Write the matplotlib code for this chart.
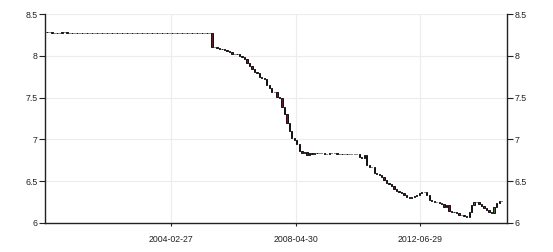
import pandas as pd
import numpy as np
import matplotlib
matplotlib.use('Agg')
import matplotlib.pyplot as plt
import matplotlib.dates as mdates
from matplotlib.ticker import FormatStrFormatter

# Fechamentos mensais (jan/2000 ... mar/2015)
close_2000_2004 = [
    8.2793, 8.2789, 8.2787, 8.2783, 8.2774, 8.2778, 8.2792, 8.2795, 8.2776, 8.2775, 8.2773, 8.2774,
    8.2771, 8.2776, 8.2776, 8.2772, 8.2773, 8.2770, 8.2770, 8.2770, 8.2769, 8.2768, 8.2769, 8.2766,
    8.2766, 8.2767, 8.2772, 8.2771, 8.2771, 8.2772, 8.2768, 8.2769, 8.2769, 8.2771, 8.2772, 8.2773,
    8.2770, 8.2772, 8.2773, 8.2773, 8.2771, 8.2773, 8.2772, 8.2771, 8.2771, 8.2769, 8.2770, 8.2767,
    8.2769, 8.2771, 8.2770, 8.2771, 8.2745, 8.2765, 8.2769, 8.2766, 8.2765, 8.2765, 8.2765, 8.2765,
]
close_2005_2009 = [
    8.2765, 8.2765, 8.2765, 8.2765, 8.2765, 8.2765, 8.1080, 8.1000, 8.0920, 8.0850, 8.0825, 8.0702,
    8.0608, 8.0415, 8.0170, 8.0165, 8.0250, 7.9956, 7.9897, 7.9593, 7.9087, 7.8792, 7.8412, 7.8087,
    7.7898, 7.7410, 7.7342, 7.7247, 7.6516, 7.6155, 7.5720, 7.5640, 7.5108, 7.4928, 7.3850, 7.3046,
    7.1918, 7.1058, 7.0190, 6.9965, 6.9472, 6.8591, 6.8388, 6.8445, 6.8183, 6.8349, 6.8271, 6.8346,
    6.8382, 6.8380, 6.8359, 6.8263, 6.8300, 6.8319, 6.8317, 6.8321, 6.8262, 6.8264, 6.8272, 6.8282,
]
close_2010_2015 = [
    6.8270, 6.8269, 6.8263, 6.8263, 6.8275, 6.7909, 6.7740, 6.8090, 6.6905, 6.6710, 6.6670, 6.6000,
    6.5900, 6.5700, 6.5500, 6.5100, 6.4800, 6.4650, 6.4400, 6.4100, 6.3850, 6.3650, 6.3550, 6.3300,
    6.3100, 6.3000, 6.3100, 6.3200, 6.3400, 6.3550, 6.3700, 6.3650, 6.3300, 6.2800, 6.2600, 6.2500,
    6.2500, 6.2450, 6.2300, 6.1900, 6.2200, 6.1400, 6.1350, 6.1300, 6.1200, 6.1000, 6.0900, 6.0800,
    6.0700, 6.1300, 6.2100, 6.2550, 6.2500, 6.2300, 6.2000, 6.1750, 6.1600, 6.1300, 6.1250, 6.1900,
    6.2450, 6.2650, 6.2600,
]

tick_datas = ['2004-02-27', '2008-04-30', '2012-06-29']
y_ticks = [6, 6.5, 7, 7.5, 8, 8.5]

fechamento = np.array(close_2000_2004 + close_2005_2009 + close_2010_2015)
abertura = np.concatenate([[fechamento[0]], fechamento[:-1]])
datas = pd.date_range('2000-01-01', periods=len(fechamento), freq='MS') + pd.Timedelta(days=14)
x = mdates.date2num(datas)

subida = fechamento > abertura
cores = np.where(subida, '#2f7a2f', '#7a1224')

fig = plt.figure(figsize=(5.53, 2.52), dpi=100)
ax = fig.add_axes([45 / 553, 29 / 252, 462 / 553, 209 / 252])

ax.bar(x, fechamento - abertura, bottom=abertura, width=17, color=cores,
       edgecolor='#111111', linewidth=0.7, zorder=3)

ax.set_ylim(6, 8.5)
ax.set_xlim(mdates.date2num(pd.Timestamp('1999-12-20')), mdates.date2num(pd.Timestamp('2015-05-21')))
ax.set_yticks(y_ticks)
ax.yaxis.set_major_formatter(FormatStrFormatter('%g'))
ax.set_xticks(mdates.date2num(pd.to_datetime(tick_datas)))
ax.set_xticklabels(tick_datas)

ax.grid(True, color='#ececec', linewidth=0.8, zorder=0)
ax.set_axisbelow(True)
for lado in ['left', 'bottom', 'right']:
    ax.spines[lado].set_color('#222222')
    ax.spines[lado].set_linewidth(1.0)
ax.spines['top'].set_visible(False)

ax.tick_params(axis='y', left=True, right=True, labelleft=True, labelright=True,
               length=4, width=0.8, pad=1.5, labelsize=6.3, labelcolor='#222222', color='#222222')
ax.tick_params(axis='x', length=2, width=0.8, pad=7, labelsize=6.3, labelcolor='#222222', color='#222222')
for lbl in ax.get_xticklabels() + ax.get_yticklabels():
    lbl.set_family('Liberation Sans')

fig.savefig('out.png', dpi=100)
